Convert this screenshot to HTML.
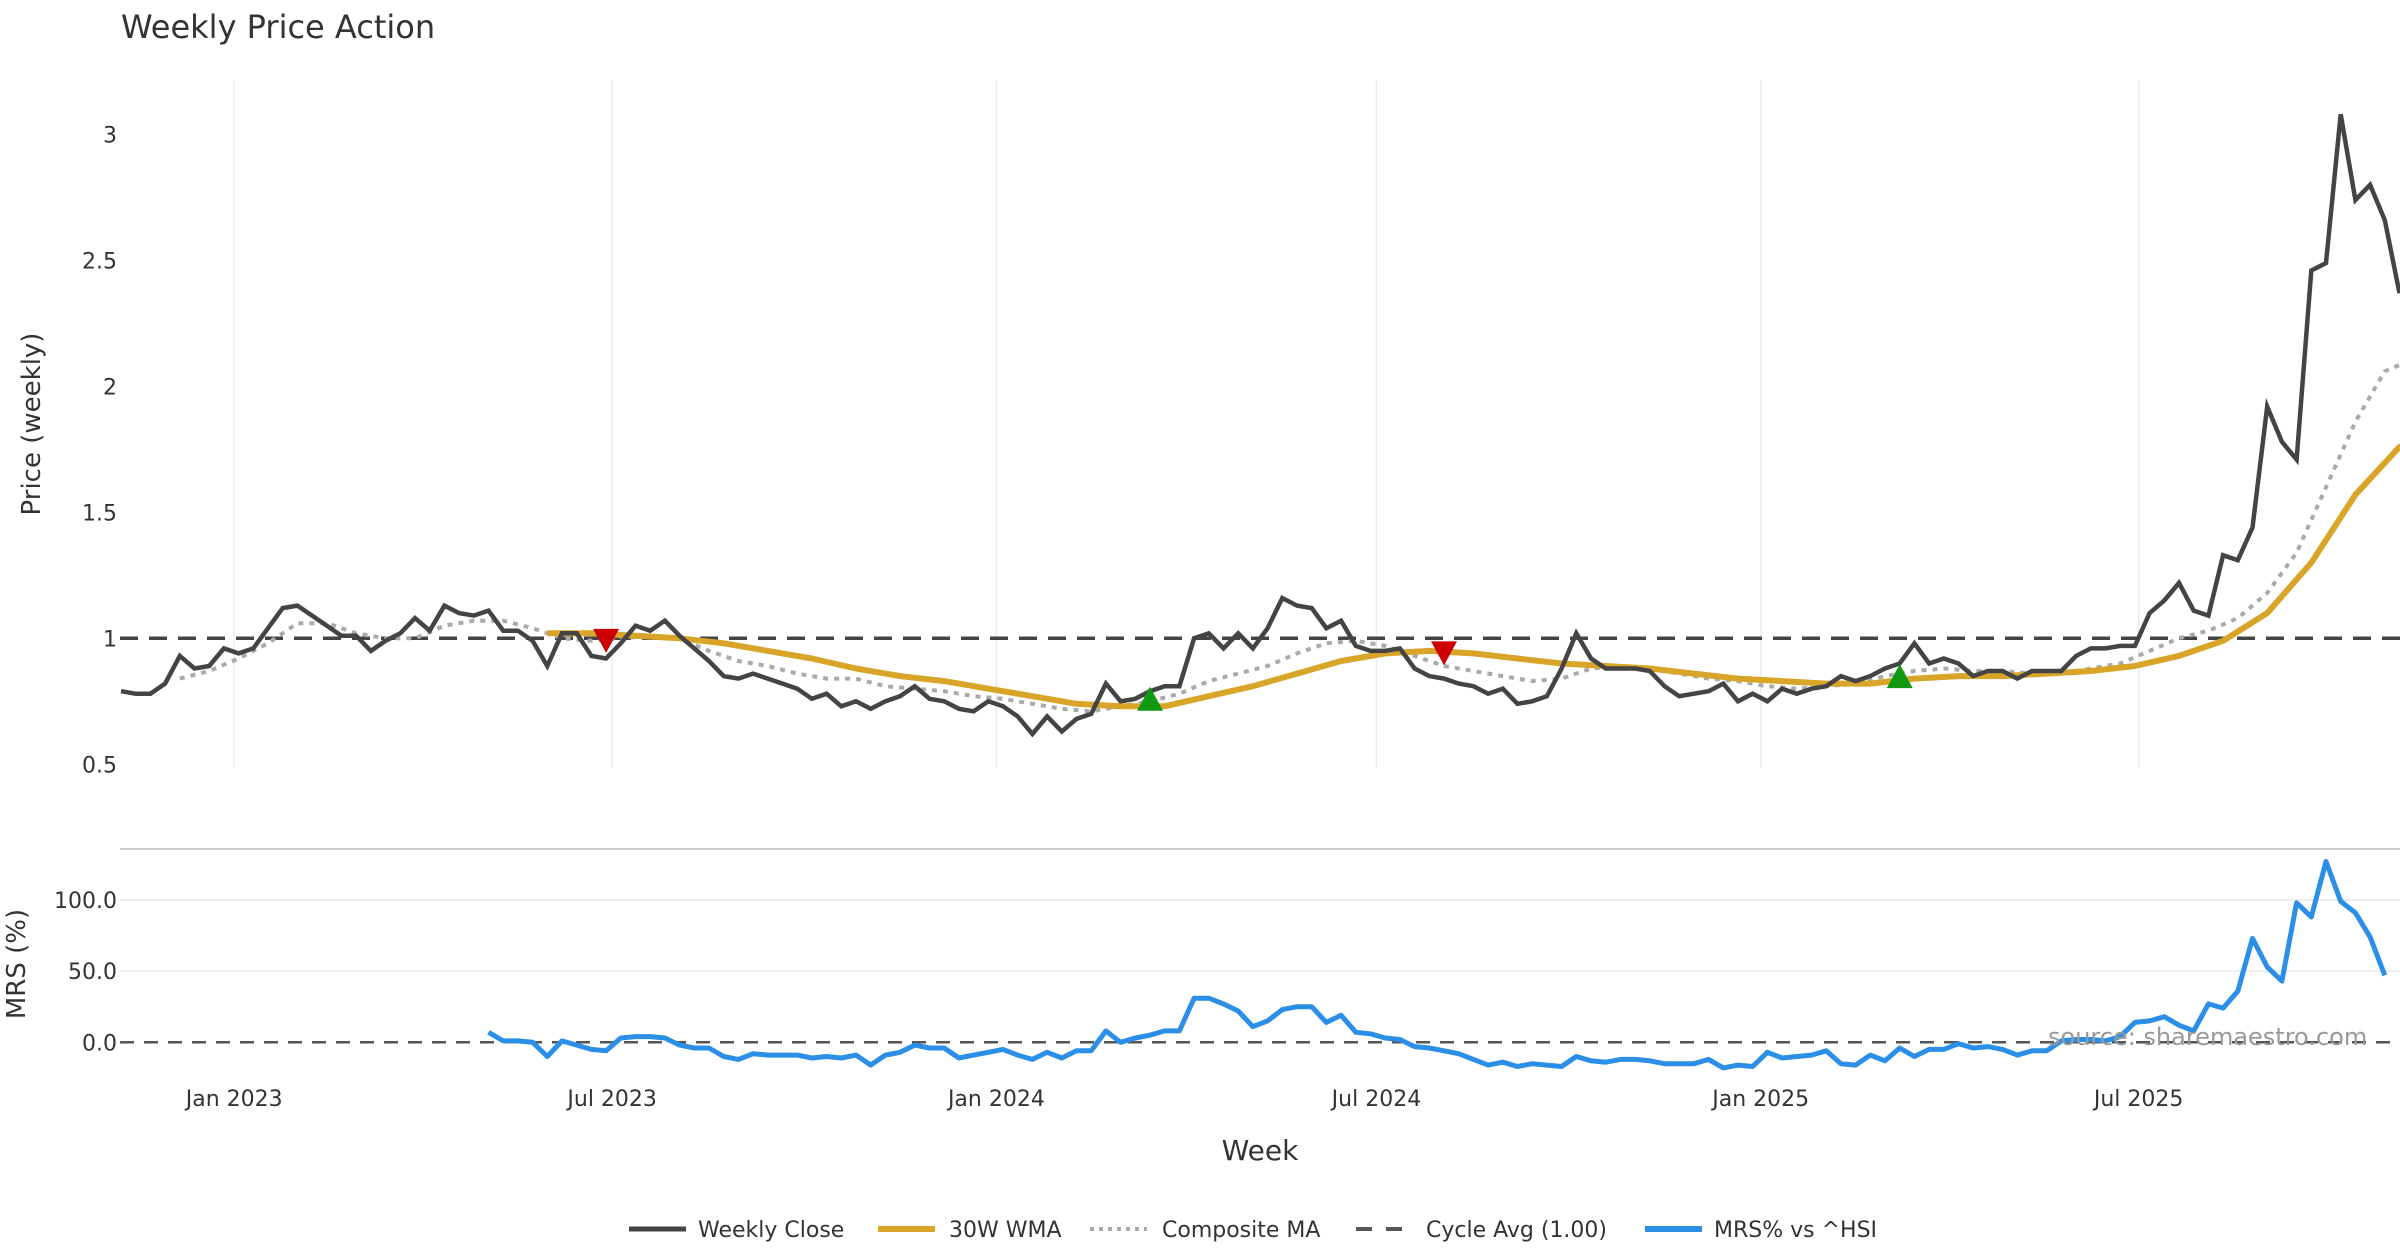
<!DOCTYPE html>
<html><head><meta charset="utf-8"><style>
html,body{margin:0;padding:0;background:#fff}
svg{display:block;font-family:"DejaVu Sans","Liberation Sans",sans-serif}
</style></head><body>
<svg id="chart" width="2400" height="1260" viewBox="0 0 2400 1260" xmlns="http://www.w3.org/2000/svg">
<text x="121" y="38" font-size="32" fill="#333">Weekly Price Action</text>
<g id="grid"></g>
<g id="marks"></g>
<text transform="translate(40,424) rotate(-90)" text-anchor="middle" font-size="26" fill="#333">Price (weekly)</text>
<text transform="translate(25,964) rotate(-90)" text-anchor="middle" font-size="26" fill="#333">MRS (%)</text>
<text x="1260" y="1160" text-anchor="middle" font-size="28" fill="#333">Week</text>
<text x="2048" y="1045" font-size="24" fill="#999">source: sharemaestro.com</text>
<g id="legend"></g>
</svg>
<script>
const closeVals=[.79,.78,.78,.82,.93,.88,.89,.96,.94,.96,1.04,1.12,1.13,1.09,1.05,1.01,1.01,.95,.99,1.02,1.08,1.03,1.13,1.10,1.09,1.11,1.03,1.03,.99,.89,1.02,1.02,.93,.92,.98,1.05,1.03,1.07,1.01,.96,.91,.85,.84,.86,.84,.82,.80,.76,.78,.73,.75,.72,.75,.77,.81,.76,.75,.72,.71,.75,.73,.69,.62,.69,.63,.68,.70,.82,.75,.76,.79,.81,.81,1.00,1.02,.96,1.02,.96,1.04,1.16,1.13,1.12,1.04,1.07,.97,.95,.95,.96,.88,.85,.84,.82,.81,.78,.80,.74,.75,.77,.88,1.02,.92,.88,.88,.88,.87,.81,.77,.78,.79,.82,.75,.78,.75,.80,.78,.80,.81,.85,.83,.85,.88,.90,.98,.90,.92,.90,.85,.87,.87,.84,.87,.87,.87,.93,.96,.96,.97,.97,1.10,1.15,1.22,1.11,1.09,1.33,1.31,1.44,1.92,1.78,1.71,2.46,2.49,3.08,2.74,2.80,2.66,2.37];
const compStart=4, compStep=2;
const compVals=[.84,.87,.92,.98,1.06,1.06,1.02,1.0,1.0,1.05,1.07,1.07,1.04,1.0,.99,1.0,1.01,1.0,.95,.91,.89,.86,.84,.84,.81,.80,.79,.77,.76,.74,.72,.71,.73,.75,.78,.83,.86,.89,.94,.98,.99,.97,.93,.89,.87,.85,.83,.84,.88,.89,.88,.86,.84,.83,.81,.80,.81,.82,.85,.87,.88,.87,.87,.86,.86,.88,.90,.95,1.00,1.03,1.08,1.18,1.34,1.60,1.86,2.06,2.11];
const wmaStart=29, wmaStep=3;
const wmaVals=[1.02,1.02,1.01,1.00,.98,.95,.92,.88,.85,.83,.80,.77,.74,.73,.73,.77,.81,.86,.91,.94,.95,.94,.92,.90,.89,.88,.86,.84,.83,.82,.82,.84,.85,.85,.86,.87,.89,.93,.99,1.10,1.30,1.57,1.76,1.82];
const mrsStart=25;
const mrsVals=[7,1,1,0,-10,1,-2,-5,-6,3,4,4,3,-2,-4,-4,-10,-12,-8,-9,-9,-9,-11,-10,-11,-9,-16,-9,-7,-2,-4,-4,-11,-9,-7,-5,-9,-12,-7,-11,-6,-6,8,0,3,5,8,8,31,31,27,22,11,15,23,25,25,14,19,7,6,3,2,-3,-4,-6,-8,-12,-16,-14,-17,-15,-16,-17,-10,-13,-14,-12,-12,-13,-15,-15,-15,-12,-18,-16,-17,-7,-11,-10,-9,-6,-15,-16,-9,-13,-4,-10,-5,-5,-1,-4,-3,-5,-9,-6,-6,1,2,2,1,4,14,15,18,12,8,27,24,36,73,53,43,98,88,127,99,91,74,47];
const sellIdx=[33,90], sellVals=[0.99,0.94];
const buyIdx=[70,121], buyVals=[0.76,0.85];
const priceTicks=[0.5,1,1.5,2,2.5,3], priceTickLabels=["0.5","1","1.5","2","2.5","3"];
const mrsTicks=[0,50,100], mrsTickLabels=["0.0","50.0","100.0"];
const xTickDates=["2023-01-01","2023-07-01","2024-01-01","2024-07-01","2025-01-01","2025-07-01"];
const xTickLabels=["Jan 2023","Jul 2023","Jan 2024","Jul 2024","Jan 2025","Jul 2025"];

const NS="http://www.w3.org/2000/svg";
const DAY=86400000, T0=Date.UTC(2023,0,1);
function xDate(ms){return 234.2+(ms-T0)/DAY*2.0882;}
function xIdx(i){return 121+i*14.7;}
function yP(v){return 638.3-(v-1)*251.9;}
function yM(v){return 1042.3-v*1.4234;}
function mk(tag,attrs,parent){const e=document.createElementNS(NS,tag);for(const k in attrs)e.setAttribute(k,attrs[k]);parent.appendChild(e);return e;}
const grid=document.getElementById('grid'), marks=document.getElementById('marks'), legend=document.getElementById('legend');
const clip=mk('clipPath',{id:'pc'},mk('defs',{},marks));mk('rect',{x:120,y:60,width:2280,height:1040},clip);

xTickDates.forEach((d,k)=>{const p=d.split('-');const x=xDate(Date.UTC(+p[0],+p[1]-1,+p[2]));
 const l=mk('line',{x1:x,x2:x,y1:80,y2:768,stroke:'#ececec','stroke-width':1.5},grid);
 
 
 const t=mk('text',{x:x,y:1106,'text-anchor':'middle','font-size':22,fill:'#333'},grid);t.textContent=xTickLabels[k];
 
 
});
priceTicks.forEach((v,k)=>{const t=mk('text',{x:117,y:yP(v)+8,'text-anchor':'end','font-size':22,fill:'#333'},grid);t.textContent=priceTickLabels[k];
 
 
});
mrsTicks.forEach((v,k)=>{if(v!==0){const l=mk('line',{x1:120,x2:2400,y1:yM(v),y2:yM(v),stroke:'#eeeeee','stroke-width':2},grid);
 
 }
 const t=mk('text',{x:117,y:yM(v)+8,'text-anchor':'end','font-size':22,fill:'#333'},grid);t.textContent=mrsTickLabels[k];
 
 
});
const sep=mk('line',{x1:120,x2:2400,y1:849,y2:849,stroke:'#cccccc','stroke-width':2},grid);



const g=mk('g',{'clip-path':'url(#pc)'},marks);
const cyc=mk('line',{x1:120,x2:2400,y1:yP(1),y2:yP(1),stroke:'#444','stroke-width':3.5,'stroke-dasharray':'18,11'},g);


const zero=mk('line',{x1:120,x2:2400,y1:yM(0),y2:yM(0),stroke:'#555','stroke-width':2.5,'stroke-dasharray':'14,10'},g);


function poly(vals,start,step,yf){return vals.map((v,i)=>xIdx(start+i*step).toFixed(1)+','+yf(v).toFixed(1)).join(' ');}
const comp=mk('polyline',{points:poly(compVals,compStart,compStep,yP),fill:'none',stroke:'#aaaaaa','stroke-width':4,'stroke-dasharray':'5,6'},g);


const wma=mk('polyline',{points:poly(wmaVals,wmaStart,wmaStep,yP),fill:'none',stroke:'#d9a528','stroke-width':6,'stroke-linejoin':'round'},g);


const cl=mk('polyline',{points:poly(closeVals,0,1,yP),fill:'none',stroke:'#444444','stroke-width':4.5,'stroke-linejoin':'miter'},g);


const mrs=mk('polyline',{points:poly(mrsVals,mrsStart,1,yM),fill:'none',stroke:'#2b8fe8','stroke-width':5,'stroke-linejoin':'round'},g);


sellIdx.forEach((ix,k)=>{const x=xIdx(ix),y=yP(sellVals[k]);
 const p=mk('polygon',{points:`${x-13},${y-12} ${x+13},${y-12} ${x},${y+12}`,fill:'#cc0000'},g);
 
 
});
buyIdx.forEach((ix,k)=>{const x=xIdx(ix),y=yP(buyVals[k]);
 const p=mk('polygon',{points:`${x-13},${y+12} ${x+13},${y+12} ${x},${y-12}`,fill:'#119911'},g);
 
 
});

const legItems=[["Weekly Close",629,'#444',5,null,698],["30W WMA",878,'#d9a528',6,null,949],["Composite MA",1090,'#aaa',4,'4,5',1162],["Cycle Avg (1.00)",1356,'#555',4,'16,14',1426],["MRS% vs ^HSI",1645,'#2b8fe8',6,null,1714]];
legItems.forEach(it=>{const gi=mk('g',{},legend);
 
 
 const a={x1:it[1],x2:it[1]+57,y1:1229,y2:1229,stroke:it[2],'stroke-width':it[3]};if(it[4])a['stroke-dasharray']=it[4];
 mk('line',a,gi);
 const t=mk('text',{x:it[5],y:1237,'font-size':22,fill:'#333'},gi);t.textContent=it[0];
});
</script>
</body></html>
